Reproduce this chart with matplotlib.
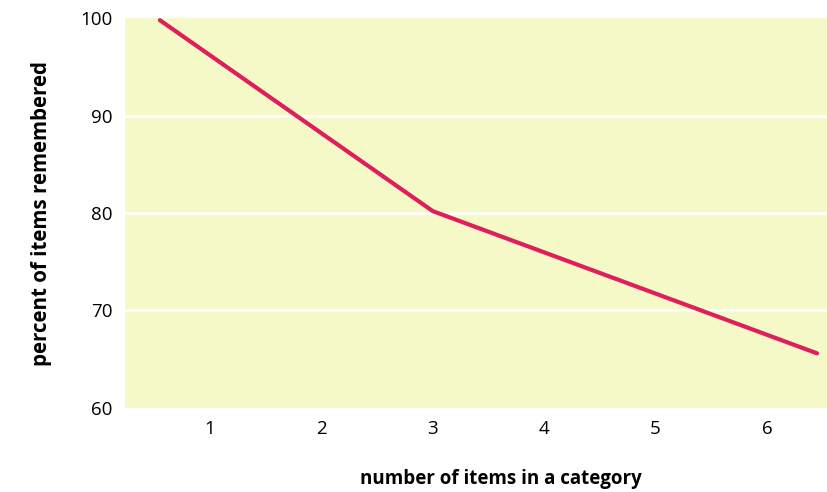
import matplotlib
matplotlib.use("Agg")
import matplotlib.pyplot as plt

# data
items = [0.55, 3, 6.45]
percent = [99.8, 80.2, 65.6]
x_ticks = [1, 2, 3, 4, 5, 6]
y_ticks = [60, 70, 80, 90, 100]

plt.rcParams['font.family'] = ['Open Sans', 'DejaVu Sans']

fig = plt.figure(figsize=(8.27, 4.92), dpi=100)
ax = fig.add_axes([0.151, 0.171, 0.849, 0.792])
ax.set_facecolor('#f5f9c8')

for y in [70, 80, 90]:
    ax.axhline(y, color='white', linewidth=1.8, zorder=1)

ax.plot(items, percent, color='#de1f5b', linewidth=3, solid_capstyle='round', zorder=3)

ax.set_xlim(0.236, 6.54)
ax.set_ylim(60, 100)
ax.set_xticks(x_ticks)
ax.set_yticks(y_ticks)
ax.tick_params(length=0, labelsize=13.5, pad=9)
for s in ax.spines.values():
    s.set_visible(False)

ax.set_xlabel('number of items in a category', fontsize=13.5, fontweight='bold', va='center')
ax.xaxis.set_label_coords(0.536, -0.183)
ax.set_ylabel('percent of items remembered', fontsize=14.8, fontweight='bold', labelpad=20)

plt.savefig('out.png')
